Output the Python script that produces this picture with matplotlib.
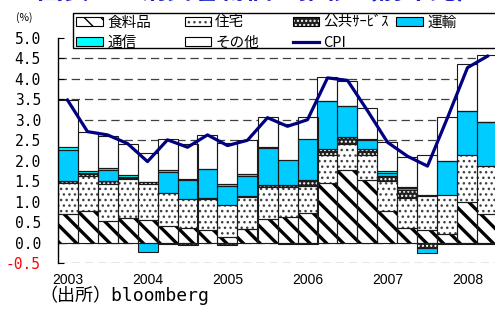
import numpy as np
import matplotlib
matplotlib.use("Agg")
import matplotlib.pyplot as plt
from matplotlib.patches import Patch, Rectangle
from matplotlib.lines import Line2D
from matplotlib.legend_handler import HandlerTuple

# quarterly, 2003Q1 .. 2008Q2 (contributions to CPI, % yoy)
years = ["2003", "2004", "2005", "2006", "2007", "2008"]
food = [0.70, 0.77, 0.53, 0.60, 0.56, 0.40, 0.36, 0.31, 0.14, 0.33, 0.57,
        0.64, 0.73, 1.46, 1.78, 1.53, 0.78, 0.37, 0.31, 0.21, 0.99, 0.70]
housing = [0.75, 0.86, 0.90, 0.96, 0.87, 0.81, 0.71, 0.76, 0.78, 0.78, 0.79,
           0.72, 0.66, 0.69, 0.63, 0.60, 0.72, 0.71, 0.84, 0.96, 1.16, 1.18]
public = [0.06, 0.04, 0.07, 0.02, 0.06, -0.04, -0.06, 0.02, -0.06, 0.04, 0.05,
          0.05, 0.15, 0.13, 0.18, 0.16, 0.14, 0.20, -0.12, -0.03, -0.02, -0.02]
transport = [0.75, 0.04, 0.28, 0.03, -0.22, 0.51, 0.45, 0.70, 0.47, 0.49, 0.91,
             0.61, 0.98, 1.17, 0.74, 0.21, 0.06, 0.05, -0.14, 0.83, 1.06, 1.06]
comm = [0.08, 0.05, 0.05, 0.04, 0.00, 0.06, 0.03, 0.02, 0.04, 0.03, 0.02,
        -0.03, -0.03, 0.00, 0.00, 0.04, 0.05, 0.02, 0.02, 0.00, 0.00, 0.00]
other = [1.15, 0.95, 0.78, 0.75, 0.71, 0.75, 0.85, 0.81, 1.00, 0.83, 0.73,
         0.88, 0.55, 0.58, 0.62, 0.75, 0.70, 0.75, 0.96, 1.07, 1.14, 1.65]
cpi = [3.48, 2.71, 2.63, 2.42, 1.98, 2.51, 2.33, 2.63, 2.37, 2.50, 3.05,
       2.84, 3.00, 4.02, 3.96, 3.22, 2.45, 2.11, 1.87, 3.05, 4.27, 4.55]

# name, values, face, hatch, hatch colour, hatch linewidth
series = [
    ("食料品", food, "white", "\\\\", "black", 2.4),
    ("住宅", housing, "white", "...", "#404040", 1.0),
    ("公共ｻｰﾋﾞｽ", public, "#202020", "....", "white", 1.0),
    ("運輸", transport, "#00CCFF", None, "black", 1.0),
    ("通信", comm, "#00FFFF", None, "black", 1.0),
    ("その他", other, "white", None, "black", 1.0),
]

plt.rcParams["lines.scale_dashes"] = False
jp = ["Noto Sans CJK JP", "DejaVu Sans"]

W, H = 495, 309
fig = plt.figure(figsize=(W / 100, H / 100), dpi=100)
ax = fig.add_axes([57.5 / W, 1 - 263.3 / H, 440 / W, (263.3 - 37.7) / H])

x = np.arange(len(food))
pos = np.zeros(len(x))
neg = np.zeros(len(x))
handles = {}
for name, vals, face, hatch, hcol, hlw in series:
    v = np.array(vals)
    bottom = np.where(v >= 0, pos, neg)
    with plt.rc_context({"hatch.linewidth": hlw}):
        ax.bar(x, v, width=1.0, bottom=bottom, color=face, hatch=hatch,
               edgecolor=hcol, linewidth=0, zorder=2)
        h_fill = Patch(facecolor=face, hatch=hatch, edgecolor=hcol, linewidth=0)
    ax.bar(x, v, width=1.0, bottom=bottom, fill=False, edgecolor="#1a1a1a",
           linewidth=0.8, zorder=2.1)
    h_edge = Patch(fill=False, edgecolor="black", linewidth=0.8)
    handles[name] = (h_fill, h_edge)
    pos = np.where(v >= 0, pos + v, pos)
    neg = np.where(v < 0, neg + v, neg)

ax.plot(x, cpi, color="#000080", linewidth=2.3, zorder=3)
handles["CPI"] = Line2D([], [], color="#000080", linewidth=2.3)

for yv in np.arange(-0.5, 4.75, 0.5):
    ax.axhline(yv, color="#404040", linewidth=0.9, dashes=(6, 3.5), zorder=0.5)

ax.set_xlim(-0.5, len(x) - 0.5)
ax.set_ylim(-0.5, 5.0)
for s in ["top", "right", "bottom"]:
    ax.spines[s].set_visible(False)
ax.spines["left"].set_color("black")
ax.spines["left"].set_linewidth(1.0)

yt = np.arange(-0.5, 5.01, 0.5)
ax.set_yticks(yt)
ax.set_yticklabels(["%.1f" % v for v in yt], family="DejaVu Sans Mono", fontsize=10.5)
ax.tick_params(axis="y", direction="in", length=4, pad=12, colors="black")
ax.get_yticklabels()[0].set_color("red")

ax.set_xticks(np.arange(0, len(x), 4))
ax.set_xticklabels(years, family="Liberation Sans", fontsize=10)
ax.tick_params(axis="x", length=0, pad=7)

# legend box runs off the right edge like the source
fig.add_artist(Rectangle((73 / W, 1 - 48 / H), 440 / W, 35 / H,
                         transform=fig.transFigure, facecolor="white",
                         edgecolor="black", linewidth=1.0, zorder=4))
leg_kw = dict(loc="upper left", bbox_transform=fig.transFigure, borderaxespad=0,
              prop={"family": jp, "size": 10.5},
              handler_map={tuple: HandlerTuple(ndivide=1)},
              handlelength=1.8, handleheight=0.55, handletextpad=0.3,
              labelspacing=0.42, borderpad=0.1, columnspacing=2.3,
              frameon=False)
order = ["食料品", "通信", "住宅", "その他", "公共ｻｰﾋﾞｽ", "CPI"]
fig.legend([handles[k] for k in order], order, ncol=3,
           bbox_to_anchor=(75 / W, 1 - 14 / H), **leg_kw)
fig.legend([handles["運輸"]], ["運輸"], ncol=1,
           bbox_to_anchor=(395 / W, 1 - 14 / H), **leg_kw)

fig.text(24 / W, 1 - 17.5 / H, "(%)", ha="center", va="center", fontsize=7.5,
         family=jp)
fig.text(39 / W, 1 - 295.5 / H, "（出所）bloomberg", ha="left", va="center",
         fontsize=13, family=["DejaVu Sans Mono", "Noto Sans CJK JP"])
title_kw = dict(va="baseline", fontsize=19, fontweight="bold", color="#1f1fbf",
                family=jp)
fig.text(36 / W, 1 + 1 / H, "図表１", ha="left", **title_kw)
fig.text(140 / W, 1 + 1 / H, "消費者物価の推移（前年比）", ha="left", **title_kw)

fig.savefig("out.png", dpi=100)
